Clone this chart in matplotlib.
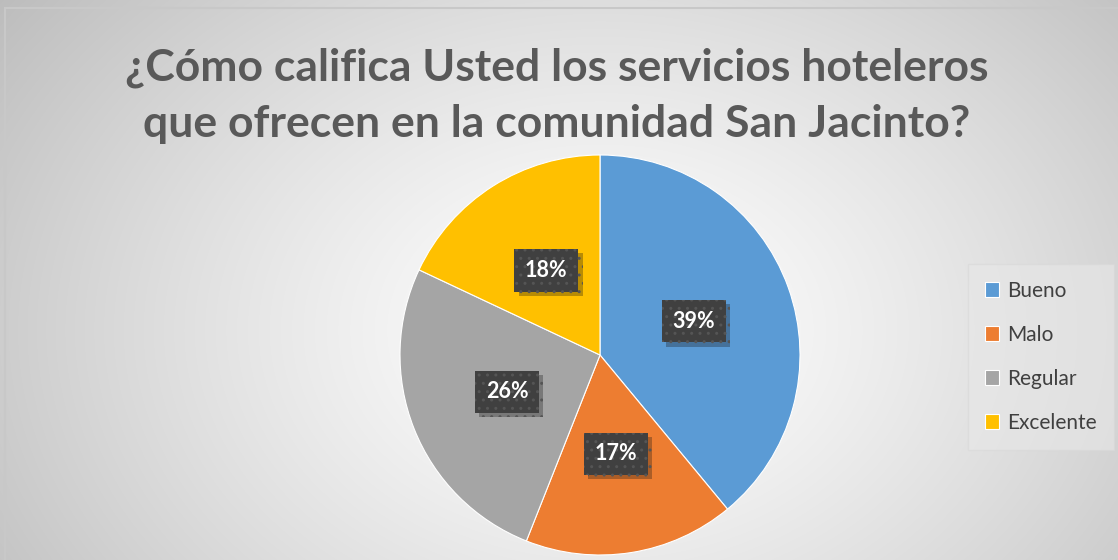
import numpy as np
import matplotlib
matplotlib.use("Agg")
import matplotlib.pyplot as plt
import matplotlib.patheffects as pe

# Datos
categorias = ["Bueno", "Malo", "Regular", "Excelente"]
porcentajes = [39, 17, 26, 18]
colores = ["#5B9BD5", "#ED7D31", "#A5A5A5", "#FFC000"]
titulo = "¿Cómo califica Usted los servicios hoteleros\nque ofrecen en la comunidad San Jacinto?"

plt.rcParams['font.family'] = ['Lato', 'DejaVu Sans']

fig = plt.figure(figsize=(11.18, 5.6), dpi=100)

# Fondo con degradado radial (blanco en el centro, gris en los bordes)
bg = fig.add_axes([0, 0, 1, 1])
yy, xx = np.mgrid[0:560, 0:1118]
d = np.sqrt(((xx - 600) / 700) ** 2 + ((yy - 330) / 520) ** 2)
d = np.clip(d / d.max(), 0, 1)
g = 1.0 - 0.26 * d ** 1.3
img = np.dstack([g, g, g])
bg.imshow(img, extent=[0, 1118, 560, 0], aspect="auto")
bg.plot([5, 1118], [8, 8], color="#c8c8c8", lw=1.5)
bg.plot([5, 5], [8, 560], color="#c8c8c8", lw=1.5)
bg.set_xlim(0, 1118)
bg.set_ylim(560, 0)
bg.axis("off")

# Título
fig.text(0.498, 0.829, titulo, ha="center", va="center", fontsize=32,
         fontweight="bold", color="#595959", linespacing=1.47)

# Pastel
ax = fig.add_axes([(600 - 201) / 1118, (560 - 556) / 560, 402 / 1118, 402 / 560])
wedges, texts, autotexts = ax.pie(
    porcentajes, colors=colores, startangle=90, counterclock=False,
    autopct="%1.0f%%", pctdistance=0.5,
    wedgeprops=dict(linewidth=0.8, edgecolor="white"),
    textprops=dict(color="white", fontsize=15.5, fontweight="bold"))
for t in autotexts:
    t.set_bbox(dict(boxstyle="square,pad=0.5", facecolor="#404040",
                    edgecolor="#555555", hatch="..", linewidth=0))
    t.get_bbox_patch().set_path_effects(
        [pe.SimplePatchShadow(offset=(3, -3), alpha=0.3), pe.Normal()])
ax.set_xlim(-1.005, 1.005)
ax.set_ylim(-1.005, 1.005)
ax.set_aspect("equal")

# Leyenda
leg = fig.legend(wedges, categorias, loc="center left",
                 bbox_to_anchor=(968 / 1118, 1 - 357 / 560),
                 borderaxespad=0,
                 frameon=True, fancybox=False, fontsize=15,
                 labelspacing=1.15, handlelength=0.7, handleheight=0.7,
                 handletextpad=0.4, borderpad=0.8, labelcolor="#404040")
leg.get_frame().set_facecolor("#e8e8e8")
leg.get_frame().set_edgecolor("#d8d8d8")
leg.get_frame().set_alpha(0.6)

fig.savefig("out.png", dpi=100)
